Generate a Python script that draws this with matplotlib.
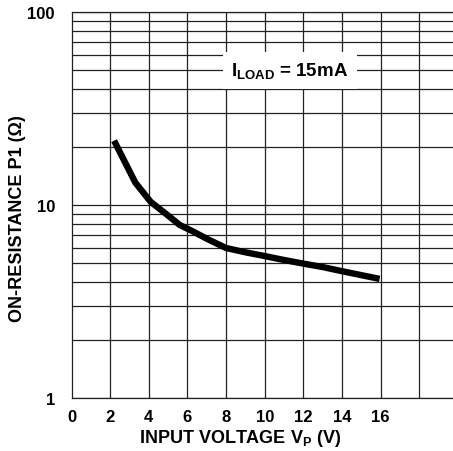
import numpy as np
import matplotlib
matplotlib.use("Agg")
import matplotlib.pyplot as plt
from matplotlib.ticker import LogLocator, NullFormatter

plt.rcParams['font.family'] = ['Liberation Sans', 'DejaVu Sans']
plt.rcParams['mathtext.fontset'] = 'custom'
plt.rcParams['mathtext.rm'] = 'Liberation Sans'
plt.rcParams['mathtext.bf'] = 'Liberation Sans:bold'

# on-resistance vs input voltage
vp = [2.2, 3.3, 4.1, 4.9, 5.6, 6.3, 7.0, 8.0, 9.0, 10.0, 11.0, 12.0, 13.0, 14.0, 15.95]
ron = [21.6, 13.1, 10.4, 9.0, 7.9, 7.3, 6.7, 6.0, 5.7, 5.45, 5.2, 4.98, 4.78, 4.55, 4.15]

x_ticks = [0, 2, 4, 6, 8, 10, 12, 14, 16]
x_grid = [2, 4, 6, 8, 10, 12, 14, 16, 18]
y_ticks = [1, 10, 100]

fig = plt.figure(figsize=(4.53, 4.52), dpi=100)
ax = fig.add_axes([0.158, 0.117, 0.842, 0.8536])

ax.plot(vp, ron, color='black', lw=4.6, solid_capstyle='butt', solid_joinstyle='round', zorder=5)

ax.set_yscale('log')
ax.set_ylim(1, 100)
ax.set_xlim(0, 19.75)

gc = '#222222'
ax.set_xticks(x_ticks)
ax.set_xticklabels([str(v) for v in x_ticks], fontsize=12, fontweight='bold')
ax.set_yticks(y_ticks)
ax.set_yticklabels([str(v) for v in y_ticks], fontsize=12, fontweight='bold')
ax.yaxis.set_minor_locator(LogLocator(base=10, subs=np.arange(2, 10)))
ax.yaxis.set_minor_formatter(NullFormatter())
ax.tick_params(axis='both', which='both', length=0)
ax.tick_params(axis='x', pad=8)
ax.tick_params(axis='y', pad=12)

for xv in x_grid:
    ax.axvline(xv, color=gc, lw=0.9, zorder=1)
ax.grid(True, axis='y', which='both', color=gc, lw=0.9, zorder=1)

for side in ['left', 'bottom', 'top']:
    ax.spines[side].set_color(gc)
    ax.spines[side].set_linewidth(0.9)
ax.spines['right'].set_visible(False)

ax.text(11.3, 50, r'I$_{\mathbf{LOAD}}$ = 15mA', fontsize=13.5, fontweight='bold',
        ha='center', va='center', zorder=6,
        bbox=dict(facecolor='white', edgecolor='none', boxstyle='square,pad=0.45'))

ax.set_xlabel(r'INPUT VOLTAGE V$_{\mathbf{P}}$ (V)', fontsize=13, fontweight='bold', va='center')
ax.xaxis.set_label_coords(0.441, -0.103)
ax.set_ylabel('ON-RESISTANCE P1 (Ω)', fontsize=13, fontweight='bold', va='center')
ax.yaxis.set_label_coords(-0.141, 0.467)

fig.savefig('out.png', dpi=100)
